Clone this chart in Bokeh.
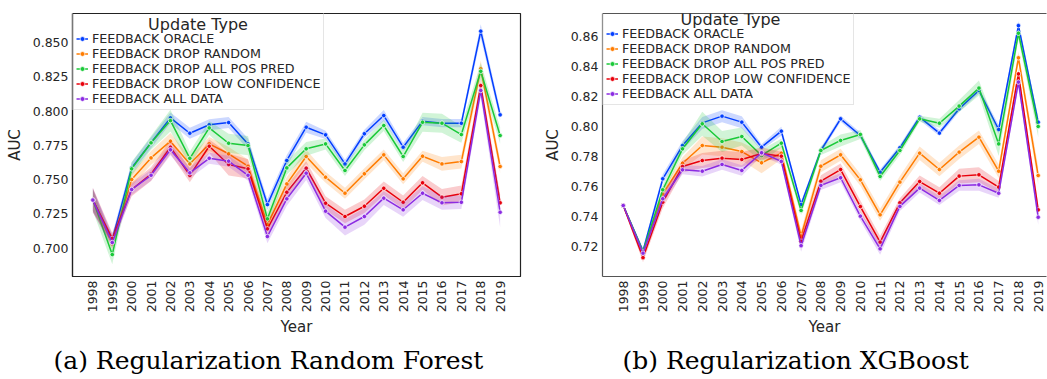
import math
from bokeh.plotting import figure
from bokeh.models import (Legend, LegendItem, Range1d, FixedTicker, Label, Title,
                          LinearAxis, PrintfTickFormatter)
from bokeh.layouts import row
from bokeh.embed import file_html
from bokeh.resources import INLINE

years = list(range(1998, 2020))
series_names = ["FEEDBACK ORACLE", "FEEDBACK DROP RANDOM", "FEEDBACK DROP ALL POS PRED",
                "FEEDBACK DROP LOW CONFIDENCE", "FEEDBACK ALL DATA"]
colors = ["#023eff", "#ff7c00", "#1ac938", "#e8000b", "#8b2be2"]

# ---- Random Forest ----
oracle_rf = [0.735, 0.706, 0.7585, 0.7768, 0.795, 0.7838, 0.790, 0.7916, 0.776, 0.7317, 0.7639,
             0.7882, 0.7826, 0.7614, 0.7834, 0.7967, 0.7736, 0.7926, 0.7911, 0.7911, 0.8583, 0.7972]
random_rf = [0.735, 0.703, 0.750, 0.7658, 0.778, 0.7614, 0.776, 0.7688, 0.7597, 0.7171, 0.7468,
             0.7668, 0.7517, 0.740, 0.7542, 0.768, 0.7505, 0.767, 0.7614, 0.7631, 0.8308, 0.7595]
pospred_rf = [0.735, 0.6952, 0.7578, 0.7768, 0.793, 0.7655, 0.7877, 0.7765, 0.7748, 0.7213, 0.7585,
              0.7724, 0.776, 0.7566, 0.7753, 0.7894, 0.7668, 0.7918, 0.7911, 0.7828, 0.829, 0.7821]
lowconf_rf = [0.735, 0.707, 0.7427, 0.754, 0.7736, 0.753, 0.7743, 0.761, 0.7578, 0.714, 0.7407,
              0.7583, 0.7327, 0.723, 0.7305, 0.7436, 0.7334, 0.7476, 0.7371, 0.7396, 0.8186, 0.733]
alldata_rf = [0.735, 0.704, 0.7427, 0.7531, 0.7717, 0.7549, 0.7655, 0.7634, 0.7531, 0.7084, 0.7359,
              0.7546, 0.7269, 0.7152, 0.723, 0.7364, 0.7279, 0.740, 0.733, 0.7334, 0.815, 0.7261]

ci_oracle_rf = [0.008, 0.004, 0.004, 0.004, 0.004, 0.004, 0.004, 0.004, 0.004, 0.004, 0.004,
                0.004, 0.003, 0.003, 0.003, 0.004, 0.003, 0.003, 0.003, 0.003, 0.005, 0.004]
ci_random_rf = [0.008, 0.004, 0.005, 0.005, 0.006, 0.005, 0.005, 0.005, 0.005, 0.005, 0.005,
                0.005, 0.004, 0.004, 0.004, 0.004, 0.004, 0.004, 0.005, 0.005, 0.006, 0.005]
ci_pospred_rf = [0.008, 0.007, 0.005, 0.005, 0.008, 0.005, 0.005, 0.007, 0.007, 0.005, 0.005,
                 0.005, 0.004, 0.004, 0.004, 0.004, 0.004, 0.007, 0.007, 0.006, 0.006, 0.006]
ci_lowconf_rf = [0.009, 0.004, 0.005, 0.005, 0.005, 0.005, 0.005, 0.008, 0.007, 0.005, 0.005,
                 0.005, 0.005, 0.005, 0.005, 0.005, 0.005, 0.005, 0.006, 0.006, 0.005, 0.006]
ci_alldata_rf = [0.009, 0.004, 0.004, 0.004, 0.004, 0.004, 0.004, 0.004, 0.004, 0.005, 0.005,
                 0.005, 0.005, 0.006, 0.006, 0.005, 0.005, 0.005, 0.005, 0.005, 0.005, 0.011]

# ---- XGBoost ----
oracle_xgb = [0.7473, 0.717, 0.7651, 0.7873, 0.8024, 0.8069, 0.8029, 0.7862, 0.7969, 0.748, 0.784,
              0.8051, 0.794, 0.7695, 0.7858, 0.8062, 0.7956, 0.8118, 0.824, 0.798, 0.8673, 0.8029]
random_xgb = [0.7473, 0.7155, 0.755, 0.7755, 0.7873, 0.7862, 0.7833, 0.7758, 0.7822, 0.727, 0.7735,
              0.7811, 0.7644, 0.7411, 0.7629, 0.7822, 0.7713, 0.7829, 0.7929, 0.7702, 0.8458, 0.7673]
pospred_xgb = [0.7473, 0.7165, 0.7578, 0.7851, 0.8018, 0.790, 0.7933, 0.7807, 0.7889, 0.744, 0.784,
               0.7907, 0.7947, 0.7667, 0.784, 0.8051, 0.8022, 0.8136, 0.8256, 0.7884, 0.8622, 0.800]
lowconf_xgb = [0.7473, 0.7125, 0.7495, 0.7733, 0.7773, 0.7789, 0.778, 0.782, 0.7802, 0.7235, 0.7635,
               0.7713, 0.7466, 0.7229, 0.7491, 0.7633, 0.7555, 0.7669, 0.7678, 0.7596, 0.8351, 0.7444]
alldata_xgb = [0.7473, 0.7155, 0.7518, 0.7711, 0.7702, 0.7747, 0.7707, 0.7825, 0.7767, 0.7205, 0.7607,
               0.7658, 0.7402, 0.7184, 0.7467, 0.7589, 0.7507, 0.7607, 0.7611, 0.7555, 0.8296, 0.7395]

ci_oracle_xgb = [0.001, 0.002, 0.003, 0.003, 0.004, 0.004, 0.004, 0.002, 0.003, 0.002, 0.002,
                 0.002, 0.002, 0.002, 0.002, 0.002, 0.002, 0.002, 0.002, 0.003, 0.003, 0.003]
ci_random_xgb = [0.001, 0.002, 0.003, 0.004, 0.006, 0.006, 0.006, 0.007, 0.004, 0.004, 0.004,
                 0.004, 0.004, 0.004, 0.004, 0.0045, 0.0045, 0.0045, 0.0045, 0.0045, 0.004, 0.006]
ci_pospred_xgb = [0.001, 0.002, 0.003, 0.004, 0.008, 0.007, 0.006, 0.004, 0.003, 0.003, 0.003,
                  0.004, 0.003, 0.003, 0.003, 0.002, 0.003, 0.004, 0.005, 0.008, 0.004, 0.007]
ci_lowconf_xgb = [0.001, 0.003, 0.004, 0.004, 0.005, 0.005, 0.005, 0.004, 0.003, 0.004, 0.004,
                  0.004, 0.004, 0.004, 0.003, 0.004, 0.004, 0.005, 0.005, 0.004, 0.004, 0.004]
ci_alldata_xgb = [0.001, 0.002, 0.003, 0.003, 0.0035, 0.0035, 0.0035, 0.002, 0.002, 0.004, 0.003,
                  0.003, 0.003, 0.004, 0.003, 0.003, 0.003, 0.0035, 0.004, 0.003, 0.003, 0.005]

rf_ticks = [0.700, 0.725, 0.750, 0.775, 0.800, 0.825, 0.850]
xgb_ticks = [0.72, 0.74, 0.76, 0.78, 0.80, 0.82, 0.84, 0.86]

FONT = "DejaVu Sans"
SERIF = "DejaVu Serif"
TXT = "#262626"
TOP = 13
FRAME_H = 263
LEG_H = 97


def make_panel(vals, cis, yr, yticks, yfmt, width, frame_w, bl, xr,
               caption, cap_offset, spine_color, legend_title_x, legend_lift, full_box):
    p = figure(width=width, height=379, x_range=Range1d(*xr), y_range=Range1d(*yr),
               output_backend="svg", toolbar_location=None,
               min_border_left=bl, min_border_right=width - bl - frame_w,
               min_border_top=TOP, min_border_bottom=379 - TOP - FRAME_H)
    p.background_fill_color = "white"
    p.border_fill_color = "white"
    p.xgrid.grid_line_color = None
    p.ygrid.grid_line_color = None

    items = []
    for name, col, v, c in zip(series_names, colors, vals, cis):
        lo = [a - b for a, b in zip(v, c)]
        hi = [a + b for a, b in zip(v, c)]
        p.varea(x=years, y1=lo, y2=hi, fill_color=col, fill_alpha=0.2)
        ln = p.line(years, v, line_color=col, line_width=1.5)
        sc = p.scatter(years, v, size=4.5, fill_color=col, line_color="white", line_width=0.7)
        items.append(LegendItem(label=name, renderers=[ln, sc]))

    xa = p.below[0]
    xa.ticker = FixedTicker(ticks=years)
    xa.major_label_orientation = math.pi / 2
    xa.axis_label = "Year"
    ya = p.left[0]
    ya.ticker = FixedTicker(ticks=yticks)
    ya.formatter = PrintfTickFormatter(format=yfmt)
    ya.axis_label = "AUC"
    for ax in (xa, ya):
        ax.axis_line_color = spine_color
        ax.axis_line_width = 1.2
        ax.major_tick_out = 0
        ax.major_tick_in = 0
        ax.minor_tick_line_color = None
        ax.major_label_text_font = FONT
        ax.major_label_text_font_size = "12.5px"
        ax.major_label_text_color = TXT
        ax.axis_label_text_font = FONT
        ax.axis_label_text_font_size = "15px"
        ax.axis_label_text_font_style = "normal"
        ax.axis_label_text_color = TXT
        ax.major_label_standoff = 4
    xa.axis_label_standoff = 3
    ya.axis_label_standoff = 6

    if full_box:
        p.outline_line_color = spine_color
        p.outline_line_width = 1.2
    else:
        p.outline_line_color = None
        top = LinearAxis(ticker=FixedTicker(ticks=[]), axis_line_color=spine_color,
                         axis_line_width=1.2, major_tick_line_color=None,
                         minor_tick_line_color=None, major_label_text_font_size="0px")
        p.add_layout(top, "above")

    leg = Legend(items=items, location=(0, FRAME_H + legend_lift - LEG_H), title=" ",
                 title_text_font_size="13px", title_standoff=10,
                 label_text_font=FONT, label_text_font_size="12.7px", label_text_color=TXT,
                 label_height=13, glyph_height=13, glyph_width=12, label_standoff=4,
                 spacing=0, padding=3, margin=0,
                 border_line_color="#cccccc", border_line_width=1,
                 background_fill_color="white", background_fill_alpha=0.0)
    p.add_layout(leg)
    p.add_layout(Label(x=legend_title_x, y=FRAME_H + legend_lift - 11,
                       x_units="screen", y_units="screen", level="overlay",
                       text="Update Type", text_font=FONT, text_font_size="16px",
                       text_color=TXT, text_align="center", text_baseline="middle"))

    p.add_layout(Title(text=caption, align="left", offset=cap_offset, text_font=SERIF,
                       text_font_size="25px", text_font_style="normal",
                       text_color="black", standoff=9), "below")
    return p


p1 = make_panel([oracle_rf, random_rf, pospred_rf, lowconf_rf, alldata_rf],
                [ci_oracle_rf, ci_random_rf, ci_pospred_rf, ci_lowconf_rf, ci_alldata_rf],
                (0.6792, 0.8712), rf_ticks, "%.3f", 540, 448, 72,
                (1998 - 1.05, 2019 + 1.05), "(a) Regularization Random Forest", -19,
                "#222222", 125.5, 0, True)
p2 = make_panel([oracle_xgb, random_xgb, pospred_xgb, lowconf_xgb, alldata_xgb],
                [ci_oracle_xgb, ci_random_xgb, ci_pospred_xgb, ci_lowconf_xgb, ci_alldata_xgb],
                (0.69995, 0.87537), xgb_ticks, "%.2f", 507, 444, 62,
                (1998 - 1.05, 2019.42), "(b) Regularization XGBoost", 20,
                "#555555", 128, 5, False)

layout = row(p1, p2)
open("out.html", "w").write(file_html(layout, INLINE))
